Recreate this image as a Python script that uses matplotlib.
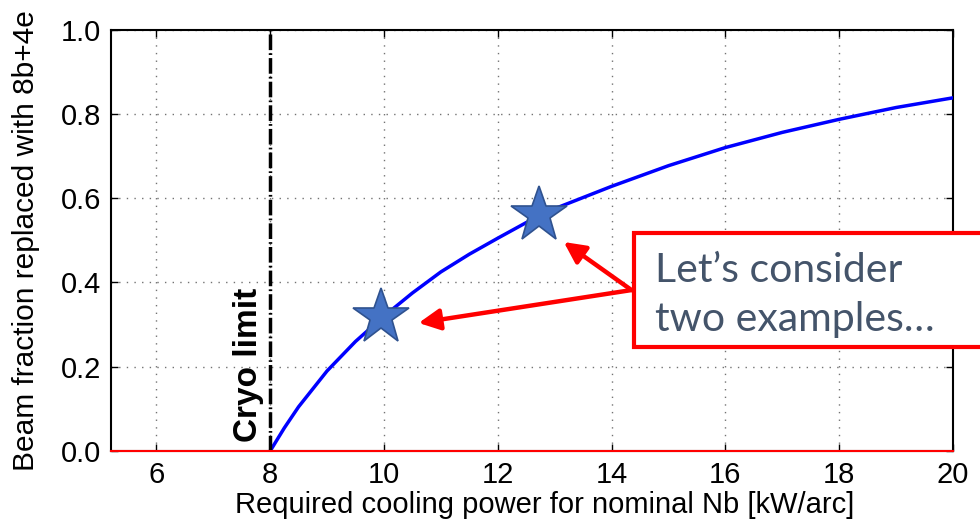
import numpy as np
import matplotlib
matplotlib.use('Agg')
from matplotlib import pyplot as plt
from matplotlib.patches import Rectangle

plt.rcParams['font.family'] = ['Liberation Sans', 'DejaVu Sans']

# curve
power = [8.0, 8.25, 8.5, 9.0, 9.5, 10.0, 10.5, 11.0, 11.5, 12.0, 12.5, 13.0,
         14.0, 15.0, 16.0, 17.0, 18.0, 19.0, 20.0]
fraction = [0.0, 0.055, 0.105, 0.19, 0.26, 0.32, 0.375, 0.425, 0.467, 0.505,
            0.542, 0.575, 0.628, 0.677, 0.72, 0.756, 0.787, 0.815, 0.838]

zero_x = [5.2, 20.0]
zero_y = [0.0, 0.0]

cryo_limit = 8.0

star_x = [9.95, 12.72]
star_y = [0.318, 0.56]

arrow_start = (14.35, 0.382)
arrow_tips = [(13.16, 0.496), (10.61, 0.304)]

fig = plt.figure(figsize=(9.8, 5.27), dpi=100)
ax = fig.add_axes([0.113, 0.144, 0.8595, 0.8])

ax.plot(power, fraction, color='#0000ff', lw=2.5, zorder=3)
ax.plot(zero_x, zero_y, color='red', lw=1.5, zorder=4, clip_on=False)
ax.axvline(cryo_limit, color='black', lw=2.5, ls=(0, (4.5, 0.9, 0.5, 0.9)), zorder=3)
ax.plot(star_x, star_y, ls='none', marker='*', ms=42, mfc='#4472C4',
        mec='#2F528F', mew=1.2, zorder=5)

ax.text(cryo_limit - 0.1, 0.022, 'Cryo limit', rotation=90, ha='right', va='bottom',
        fontsize=24, fontweight='bold')

for tip in arrow_tips:
    ax.annotate('', xy=tip, xytext=arrow_start,
                arrowprops=dict(arrowstyle='-|>', color='red', lw=3.2,
                                mutation_scale=32, shrinkA=0, shrinkB=0),
                zorder=6)

ax.set_xlim(5.2, 20)
ax.set_ylim(0, 1)
ax.set_xticks([6, 8, 10, 12, 14, 16, 18, 20])
ax.set_yticks([0.0, 0.2, 0.4, 0.6, 0.8, 1.0])
ax.grid(True, ls=(0, (1, 4.5)), color='0.45', lw=1)
ax.tick_params(direction='in', top=True, right=True, length=5, width=1,
               labelsize=21, pad=7)
for s in ax.spines.values():
    s.set_linewidth(1.5)

ax.set_xlabel('Required cooling power for nominal Nb [kW/arc]', fontsize=21)
ax.set_ylabel('Beam fraction replaced with 8b+4e', fontsize=21.5)
ax.xaxis.set_label_coords(0.515, -0.095)
ax.yaxis.set_label_coords(-0.084, 0.5)

# callout box
box = Rectangle((0.647, 0.3416), 0.4, 0.2163, transform=fig.transFigure,
                facecolor='white', edgecolor='red', lw=3, zorder=10)
fig.add_artist(box)
fig.text(0.668, 0.44, 'Let\u2019s consider\ntwo examples\u2026', color='#44546A',
         fontsize=29.5, family=['Lato', 'DejaVu Sans'], va='center', ha='left',
         linespacing=1.38, zorder=11)

fig.savefig('out.png', dpi=100)
